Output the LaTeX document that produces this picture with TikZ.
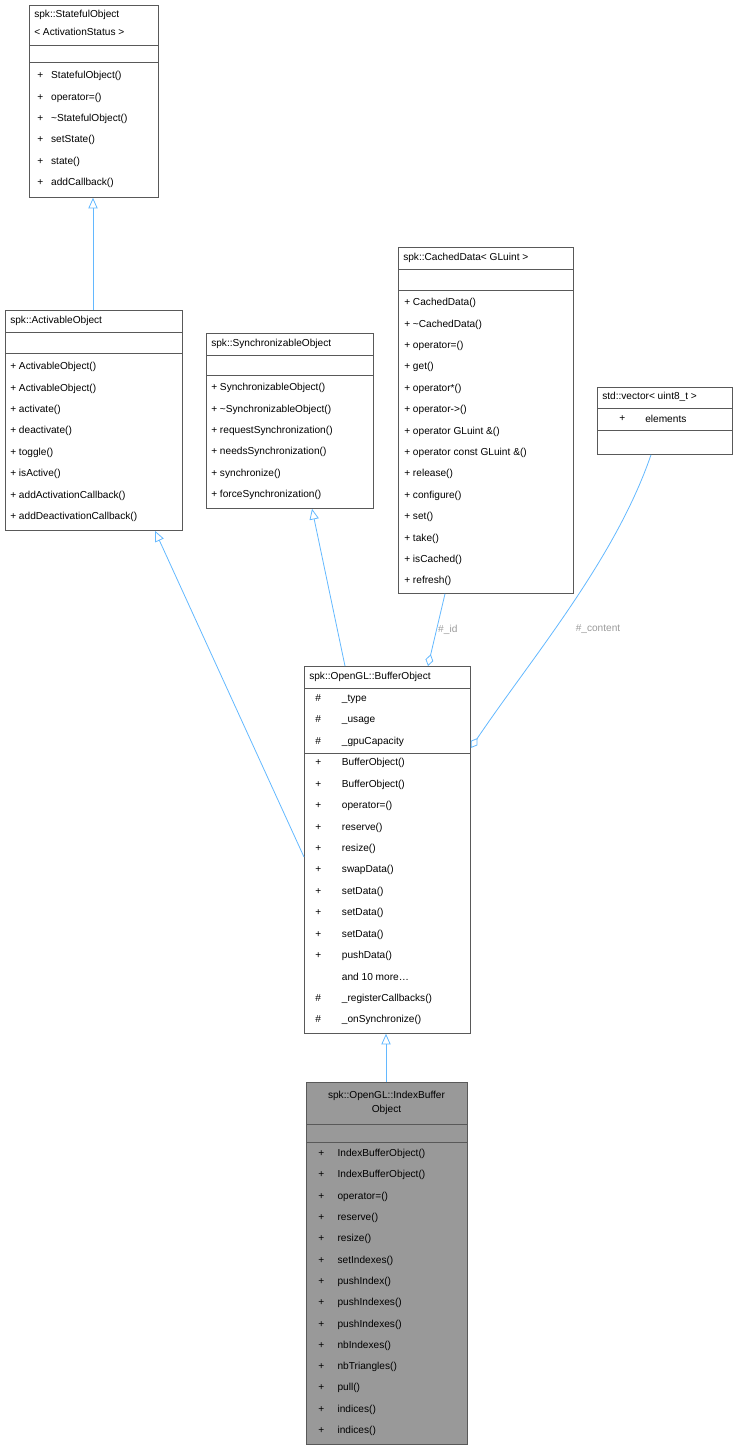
\documentclass[tikz,border=0pt]{standalone}
\usepackage{fontspec}
\setmainfont{Liberation Sans}
\usetikzlibrary{arrows.meta}
\definecolor{edgeblue}{RGB}{99,184,255}
\definecolor{boxgray}{RGB}{153,153,153}
\definecolor{lblgray}{RGB}{154,154,154}
\tikzset{
  classbox/.style={draw=black!65, line width=0.6pt, inner sep=0pt, anchor=north west},
  txt/.style={anchor=west, inner sep=0pt, font=\fontsize{7.6pt}{8pt}\selectfont},
  inherit/.style={draw=edgeblue, line width=0.6pt, -{Triangle[open, length=8pt, width=7pt]}},
  member/.style={draw=edgeblue, line width=0.6pt, -{Diamond[open, length=9pt, width=6pt]}},
  elabel/.style={text=lblgray, font=\fontsize{7.6pt}{8pt}\selectfont, inner sep=1pt}
}
\begin{document}
\begin{tikzpicture}[x=0.75pt, y=-0.75pt]
    \useasboundingbox (0,0) rectangle (738,1451);
    % class boxes
    \node[classbox, minimum width=129*0.75pt, minimum height=192*0.75pt] (stateful) at (29,5) {};
    \node[classbox, minimum width=177*0.75pt, minimum height=220*0.75pt] (activable) at (5,310) {};
    \node[classbox, minimum width=167*0.75pt, minimum height=175*0.75pt] (sync) at (206,333) {};
    \node[classbox, minimum width=175*0.75pt, minimum height=346*0.75pt] (cached) at (398,247) {};
    \node[classbox, minimum width=135*0.75pt, minimum height=67*0.75pt] (vec) at (597,387) {};
    \node[classbox, minimum width=166*0.75pt, minimum height=367*0.75pt] (buffer) at (304,666) {};
    \node[classbox, fill=boxgray, minimum width=161*0.75pt, minimum height=362*0.75pt] (index) at (306,1082) {};
    % compartments
    \draw[black!65, line width=0.6pt] (29,45)--(158,45) (29,62)--(158,62);
    \draw[black!65, line width=0.6pt] (5,332)--(182,332) (5,353)--(182,353);
    \draw[black!65, line width=0.6pt] (206,355)--(373,355) (206,375)--(373,375);
    \draw[black!65, line width=0.6pt] (398,269)--(573,269) (398,290)--(573,290);
    \draw[black!65, line width=0.6pt] (597,408)--(732,408) (597,430)--(732,430);
    \draw[black!65, line width=0.6pt] (304,688)--(470,688) (304,753)--(470,753);
    \draw[black!65, line width=0.6pt] (306,1124)--(467,1124) (306,1142)--(467,1142);
    % titles
    \node[txt] at (34,15) {spk::StatefulObject};
    \node[txt] at (34,32) {< ActivationStatus >};
    \node[txt] at (10,321) {spk::ActivableObject};
    \node[txt] at (211,344) {spk::SynchronizableObject};
    \node[txt] at (403,258) {spk::CachedData< GLuint >};
    \node[txt] at (602,397) {std::vector< uint8\_t >};
    \node[txt] at (309,677) {spk::OpenGL::BufferObject};
    \node[txt, anchor=center] at (386.5,1096) {spk::OpenGL::IndexBuffer};
    \node[txt, anchor=center] at (386.5,1110) {Object};
    % members
    \foreach \t [count=\i] in {StatefulObject(), operator=(), \textasciitilde StatefulObject(), setState(), state(), addCallback()}
      \node[txt] at (37,{76+(\i-1)*21.4}) {+\hspace{6pt}\t};
    \foreach \t [count=\i] in {ActivableObject(), ActivableObject(), activate(), deactivate(), toggle(), isActive(), addActivationCallback(), addDeactivationCallback()}
      \node[txt] at (10,{367+(\i-1)*21.4}) {+ \t};
    \foreach \t [count=\i] in {SynchronizableObject(), \textasciitilde SynchronizableObject(), requestSynchronization(), needsSynchronization(), synchronize(), forceSynchronization()}
      \node[txt] at (211,{388+(\i-1)*21.4}) {+ \t};
    \foreach \t [count=\i] in {CachedData(), \textasciitilde CachedData(), operator=(), get(), operator*(), operator->(), operator GLuint \&(), operator const GLuint \&(), release(), configure(), set(), take(), isCached(), refresh()}
      \node[txt] at (404,{303+(\i-1)*21.4}) {+ \t};
    \node[txt] at (619,419) {+};
    \node[txt] at (645,419) {elements};
    \foreach \s/\t [count=\i] in {\#/\_type, \#/\_usage, \#/\_gpuCapacity, +/BufferObject(), +/BufferObject(), +/operator=(), +/reserve(), +/resize(), +/swapData(), +/setData(), +/setData(), +/setData(), +/pushData(), {}/{and 10 more\ldots}, \#/\_registerCallbacks(), \#/\_onSynchronize()}
      \node[txt] at (315,{699+(\i-1)*21.4}) {\makebox[20pt][l]{\s}\t};
    \foreach \t [count=\i] in {IndexBufferObject(), IndexBufferObject(), operator=(), reserve(), resize(), setIndexes(), pushIndex(), pushIndexes(), pushIndexes(), nbIndexes(), nbTriangles(), pull(), indices(), indices()}
      \node[txt] at (318,{1154+(\i-1)*21.3}) {\makebox[14.5pt][l]{+}\t};
    % relations
    \draw[inherit] (activable.north -| 93,0) -- (stateful.south -| 93,0);
    \draw[inherit] ([yshift=-191*0.75pt]buffer.north west) -- ([xshift=150*0.75pt]activable.south west);
    \draw[inherit] ([xshift=41*0.75pt]buffer.north west) -- ([xshift=106*0.75pt]sync.south west);
    \draw[inherit] (index.north -| 386,0) -- (buffer.south -| 386,0);
    \draw[member] ([xshift=47*0.75pt]cached.south west) -- node[elabel, right, pos=0.5] {\#\_id} ([xshift=124*0.75pt]buffer.north west);
    \draw[member] ([xshift=54*0.75pt]vec.south west) .. controls (615,560) and (530,660) .. ([yshift=-82*0.75pt]buffer.north east);
    \node[elabel] (contentlbl) at (598,629) {\#\_content};
\end{tikzpicture}
\end{document}
